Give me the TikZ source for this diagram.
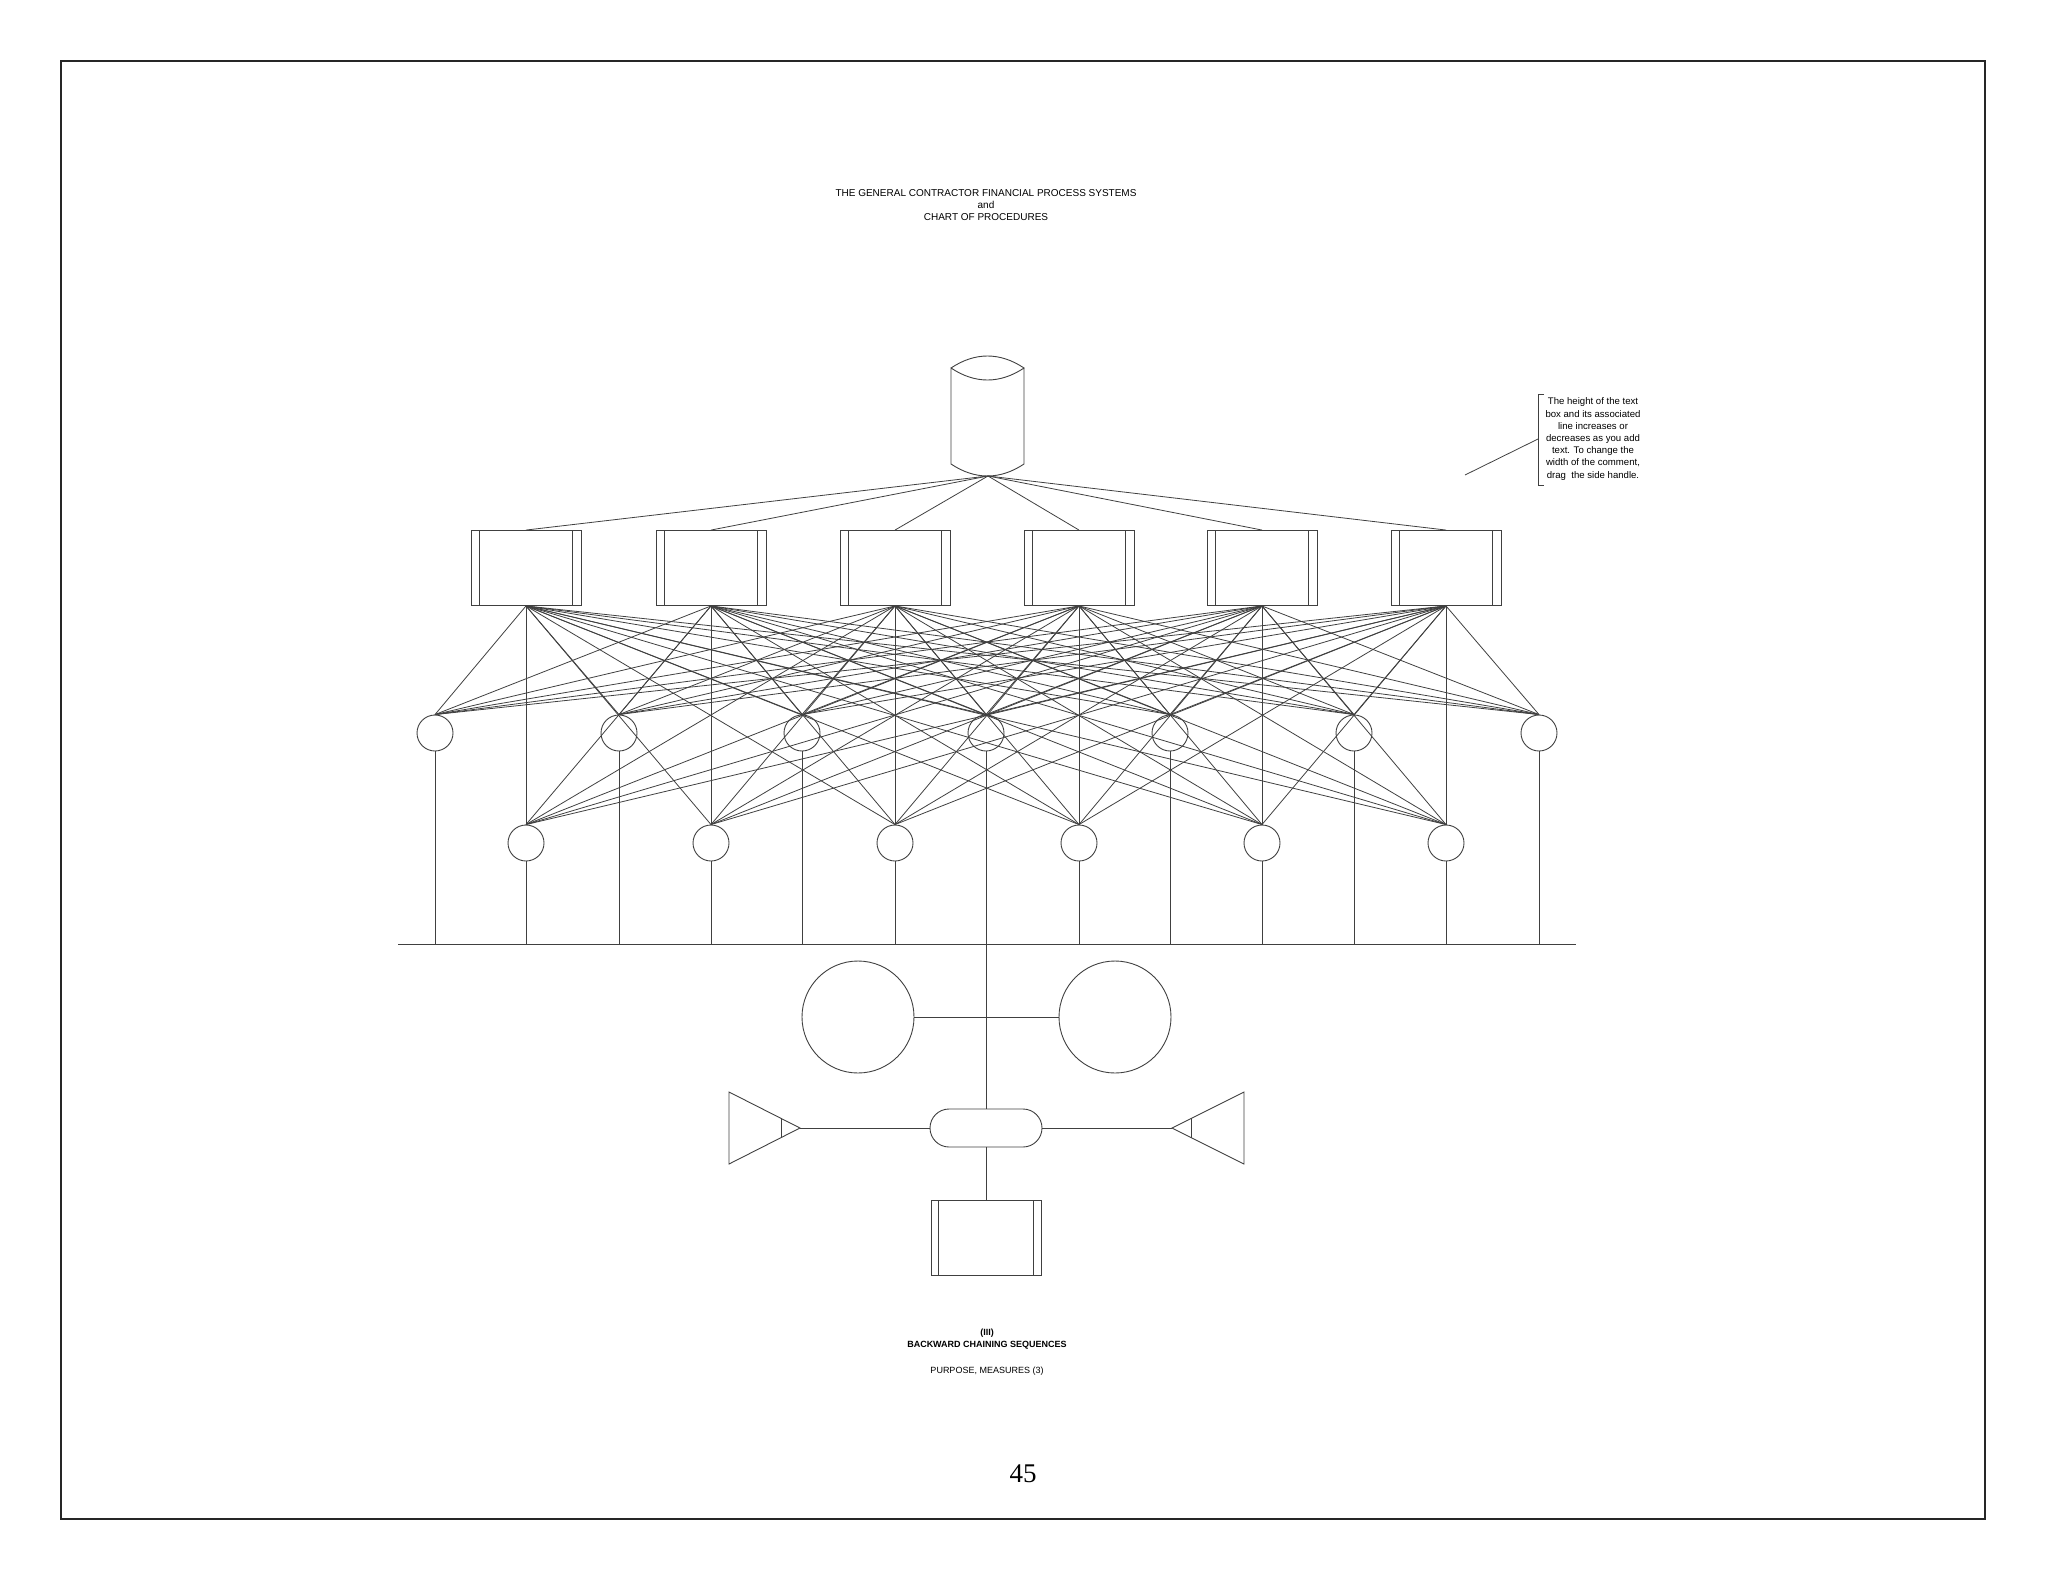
\documentclass[tikz,border=0pt]{standalone}
\usepackage{fontspec}
\setmainfont{Liberation Sans}
\newfontfamily\serifnum{Liberation Serif}
\begin{document}
\begin{tikzpicture}[x=1pt,y=-1pt,line width=0.9pt,
  ln/.style={draw=black!75,line width=0.8pt},
  circ/.style={circle,draw=black!75,minimum size=36pt,inner sep=0pt},
  bigc/.style={circle,draw=black!75,minimum size=112pt,inner sep=0pt},
  proc/.style={draw=black!75,minimum width=110pt,minimum height=75pt,inner sep=0pt}]
\useasboundingbox (0,0) rectangle (2048,1582);
\draw[black!85,line width=1.2pt] (61,61) rectangle (1985,1519);
% title
\node[font=\fontsize{10}{12}\selectfont,align=center] (title) at (986,205) {THE GENERAL CONTRACTOR FINANCIAL PROCESS SYSTEMS\\and\\CHART OF PROCEDURES};
% cylinder
\draw[black!75] (951,368) .. controls (975,352) and (1000,352) .. (1024,368)
   .. controls (1000,384) and (975,384) .. (951,368) -- (951,464)
   .. controls (975,480) and (1000,480) .. (1024,464) -- (1024,368);
\coordinate (cyl) at (988,476);
% boxes
\foreach \i/\x in {1/526,2/711,3/895,4/1079,5/1262,6/1446}{
  \node[proc] (b\i) at (\x,568) {};
  \draw[black!75] ([xshift=9pt]b\i.north west) -- ([xshift=9pt]b\i.south west);
  \draw[black!75] ([xshift=-9pt]b\i.north east) -- ([xshift=-9pt]b\i.south east);
  \draw[ln] (cyl) -- (b\i.north);
}
% upper circles
\foreach \j/\x in {1/435,2/619,3/802,4/986,5/1170,6/1354,7/1539}{
  \node[circ] (u\j) at (\x,733) {};
}
% lower circles
\foreach \j/\x in {1/526,2/711,3/895,4/1079,5/1262,6/1446}{
  \node[circ] (l\j) at (\x,843) {};
}
\foreach \i in {1,...,6}{
  \foreach \j in {1,...,7}{\draw[ln] (b\i.south) -- (u\j.north);}
  \foreach \j in {1,...,6}{\draw[ln] (b\i.south) -- (l\j.north);}
}
% bus
\coordinate (busL) at (398,944);
\coordinate (busR) at (1576,944);
\draw[ln] (busL) -- (busR);
\foreach \j in {1,2,3,5,6,7}{\draw[ln] (u\j.south) -- (u\j.south |- busL);}
\foreach \j in {1,...,6}{\draw[ln] (l\j.south) -- (l\j.south |- busL);}
% lower structure
\node[bigc] (c1) at (858,1017) {};
\node[bigc] (c2) at (1115,1017) {};
\node[draw=black!75,rounded corners=19pt,minimum width=112pt,minimum height=38pt,inner sep=0pt] (term) at (986,1128) {};
\coordinate (mid) at (986,1017);
\draw[ln] (u4.south) -- (mid) -- (term.north);
\draw[ln] (c1) -- (c2);
% triangles
\draw[black!75] (729,1092) -- (800,1128) -- (729,1164) -- cycle;
\draw[black!75] (781,1118) -- (781,1138);
\draw[black!75] (1244,1092) -- (1172,1128) -- (1244,1164) -- cycle;
\draw[black!75] (1191,1118) -- (1191,1138);
\coordinate (tl) at (800,1128);
\coordinate (tr) at (1172,1128);
\draw[ln] (tl) -- (term.west);
\draw[ln] (term.east) -- (tr);
\node[proc,minimum height=75pt] (bb) at (986,1238) {};
\draw[black!75] ([xshift=8pt]bb.north west) -- ([xshift=8pt]bb.south west);
\draw[black!75] ([xshift=-8pt]bb.north east) -- ([xshift=-8pt]bb.south east);
\draw[ln] (term.south) -- (bb.north);
% comment
\node[font=\fontsize{9.6}{12.2}\selectfont,align=center,inner sep=2pt] (cm) at (1593,439) {The height of the text\\box and its associated\\line increases or\\decreases as you add\\text. To change the\\width of the comment,\\drag\ \ the side handle.};
\draw[black!75] (1544,394) -- (1538,394) -- (1538,485) -- (1544,485);
\coordinate (cmL) at (1538,439);
\coordinate (cmE) at (1465,475);
\draw[ln] (cmE) -- (cmL);
% bottom texts
\node[font=\fontsize{9}{11.5}\selectfont\bfseries,align=center] (bt) at (987,1339) {(III)\\BACKWARD CHAINING SEQUENCES};
\node[font=\fontsize{9}{11}\selectfont] (pm) at (987,1371) {PURPOSE, MEASURES (3)};
\node[font=\fontsize{27}{30}\serifnum] (pg) at (1023,1474) {45};
\end{tikzpicture}
\end{document}
